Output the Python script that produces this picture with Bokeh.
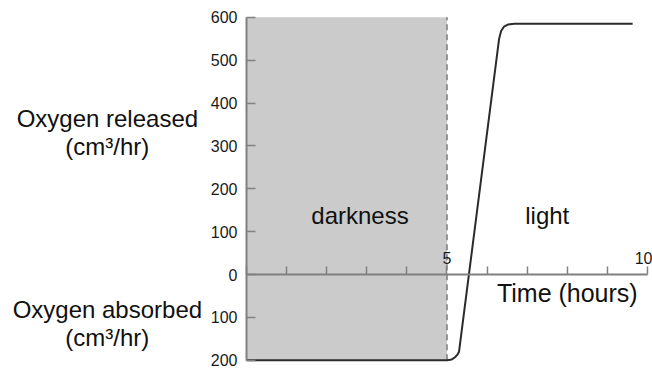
from bokeh.plotting import figure
from bokeh.models import Label, FixedTicker, Range1d
from bokeh.embed import file_html
from bokeh.resources import INLINE

# ---- data ----
time_hours = [0, 5.0, 5.12, 5.2, 5.26, 5.30, 6.30, 6.35, 6.42, 6.52, 6.68, 9.63]
oxygen_rate = [-200, -200, -198, -193, -187, -180, 550, 568, 578, 583, 585, 585]

x_ticks = [0, 1, 2, 3, 4, 5, 6, 7, 8, 9, 10]
x_tick_labels = {5: "5", 10: "10"}
y_ticks = [-200, -100, 0, 100, 200, 300, 400, 500, 600]
y_tick_labels = ["200", "100", "0", "100", "200", "300", "400", "500", "600"]

darkness_start = [0]
darkness_end = [5]
y_min, y_max = -200, 600
t_min, t_max = 0, 10

FONT = "Liberation Sans"

# the frame fills the whole canvas; axes are pinned at x=0 / y=0
p = figure(width=652, height=370,
           x_range=Range1d(-6.135, 10.125), y_range=Range1d(-223.9, 639.1),
           output_backend="svg", toolbar_location=None,
           x_axis_location="above", y_axis_location="left",
           min_border=0)
p.grid.visible = False
p.outline_line_color = None
p.background_fill_color = "white"

# darkness region
p.quad(left=darkness_start, right=darkness_end, bottom=[y_min], top=[y_max],
       fill_color="#cbcbcb", line_color=None)
# dashed boundary
p.segment(x0=darkness_end, y0=[y_min], x1=darkness_end, y1=[y_max],
          line_color="#7a7a7a", line_width=1.5, line_dash="6 4")
# oxygen curve
p.line(time_hours, oxygen_rate, line_color="#2b2b2b", line_width=2)

# x axis at y = 0
xa = p.xaxis[0]
xa.fixed_location = 0
xa.bounds = (t_min, t_max)
xa.ticker = FixedTicker(ticks=x_ticks)
xa.major_label_overrides = {t: x_tick_labels.get(t, "") for t in x_ticks}
xa.major_tick_out = 8
xa.major_tick_in = 0
xa.minor_tick_line_color = None
xa.axis_line_color = "#808080"
xa.axis_line_width = 2
xa.major_tick_line_color = "#808080"
xa.major_tick_line_width = 1.5
xa.major_label_standoff = 3
xa.major_label_text_font = FONT
xa.major_label_text_font_size = "16px"
xa.major_label_text_color = "#1a1a1a"

# y axis at x = 0
ya = p.yaxis[0]
ya.fixed_location = 0
ya.bounds = (y_min, y_max)
ya.ticker = FixedTicker(ticks=y_ticks)
ya.major_label_overrides = {t: lab for t, lab in zip(y_ticks, y_tick_labels)}
ya.major_tick_in = 9
ya.major_tick_out = 0
ya.minor_tick_line_color = None
ya.axis_line_color = "#808080"
ya.axis_line_width = 2
ya.major_tick_line_color = "#808080"
ya.major_tick_line_width = 1.5
ya.major_label_standoff = 9
ya.major_label_text_font = FONT
ya.major_label_text_font_size = "16px"
ya.major_label_text_color = "#1a1a1a"

def add_label(x, y, text, size="24px"):
    p.add_layout(Label(x=x, y=y, text=text, text_align="center",
                       text_baseline="middle", text_font=FONT,
                       text_font_size=size, text_color="#111111"))

add_label(-3.47, 364, "Oxygen released")
add_label(-3.47, 299, "(cm\u00b3/hr)")
add_label(-3.47, -82, "Oxygen absorbed")
add_label(-3.47, -147, "(cm\u00b3/hr)")
add_label(2.83, 138, "darkness")
add_label(7.50, 138, "light")
add_label(8.0, -42, "Time (hours)", size="25px")

open("out.html", "w").write(file_html(p, INLINE))
